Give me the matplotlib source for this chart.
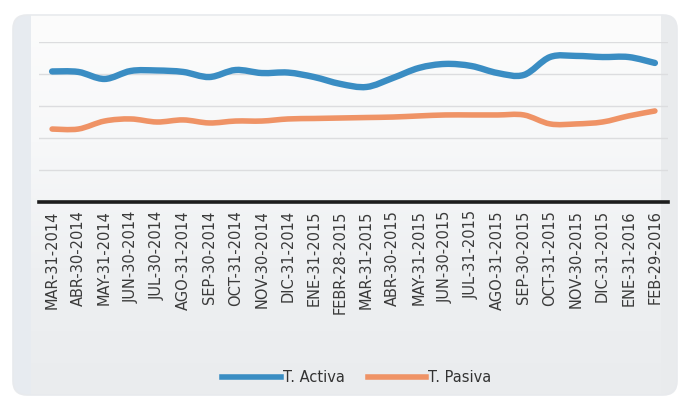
import numpy as np
import matplotlib
matplotlib.use("Agg")
import matplotlib.pyplot as plt
from matplotlib.path import Path
from matplotlib.patches import PathPatch, FancyBboxPatch, Rectangle
from matplotlib.lines import Line2D

# Monthly reference rates (%)
fechas = [
    "MAR-31-2014", "ABR-30-2014", "MAY-31-2014", "JUN-30-2014", "JUL-30-2014",
    "AGO-31-2014", "SEP-30-2014", "OCT-31-2014", "NOV-30-2014", "DIC-31-2014",
    "ENE-31-2015", "FEBR-28-2015", "MAR-31-2015", "ABR-30-2015", "MAY-31-2015",
    "JUN-30-2015", "JUL-31-2015", "AGO-31-2015", "SEP-30-2015", "OCT-31-2015",
    "NOV-30-2015", "DIC-31-2015", "ENE-31-2016", "FEB-29-2016",
]
tasa_activa = [8.16, 8.13, 7.69, 8.19, 8.22, 8.13, 7.81, 8.25, 8.06, 8.09,
               7.81, 7.38, 7.19, 7.75, 8.38, 8.63, 8.50, 8.06, 7.94, 9.06,
               9.13, 9.06, 9.06, 8.69]
tasa_pasiva = [4.56, 4.56, 5.06, 5.19, 5.00, 5.13, 4.94, 5.06, 5.06, 5.19,
               5.22, 5.25, 5.28, 5.31, 5.38, 5.44, 5.44, 5.44, 5.44, 4.88,
               4.88, 5.00, 5.38, 5.69]
etiquetas = ["T. Activa", "T. Pasiva"]

AZUL = "#3a8dc3"
NARANJA = "#ef9366"

W, H = 690, 403
fig = plt.figure(figsize=(W / 100, H / 100), dpi=100)
fig.patch.set_facecolor("white")

# Card background
bg = fig.add_axes([0, 0, 1, 1])
bg.set_xlim(0, W)
bg.set_ylim(H, 0)
bg.axis("off")
card = FancyBboxPatch((13, 15), 664, 380, boxstyle="round,pad=0,rounding_size=14",
                      facecolor="none", edgecolor="#e8eaed", lw=1.2)
bg.add_patch(card)
grad = np.linspace(0, 1, 256).reshape(-1, 1)
cmap = matplotlib.colors.LinearSegmentedColormap.from_list(
    "card", ["#fcfcfc", "#f7f8f9", "#eef0f2", "#eaecee"])
im = bg.imshow(grad, extent=(13, 677, 395, 15), aspect="auto", cmap=cmap, zorder=0)
im.set_clip_path(card)
lband = Rectangle((13, 15), 18, 380, facecolor="#e7ebf0", edgecolor="none", zorder=0.5)
rband = Rectangle((661, 15), 16, 380, facecolor="#e9ebed", edgecolor="none", zorder=0.5)
for b in (lband, rband):
    bg.add_patch(b)
    b.set_clip_path(card)

# Plot area
x0, x1, ytop, ybot = 39, 668, 42, 202
ax = fig.add_axes([x0 / W, 1 - ybot / H, (x1 - x0) / W, (ybot - ytop) / H])
ax.patch.set_alpha(0)
n = len(fechas)
x = np.arange(n)
ax.set_xlim(-0.5, n - 0.5)
ax.set_ylim(0, 10)
for s in ax.spines.values():
    s.set_visible(False)
ax.set_yticks([])
for g in [2, 4, 6, 8, 10]:
    ax.axhline(g, color="#dcdddf", lw=1.0, zorder=1)
ax.axhline(0, color="#1c1c1c", lw=2.6, zorder=2, clip_on=False)

ax.set_xticks(x)
ax.set_xticklabels(fechas, rotation=90, fontsize=10.5, color="#3a3a3a",
                   family="DejaVu Sans")
ax.tick_params(axis="x", length=0, pad=6)


def curva_suave(xs, ys):
    """Smoothed line through the points (Catmull-Rom as cubic Bezier)."""
    p = np.column_stack([xs, ys]).astype(float)
    verts = [p[0]]
    codes = [Path.MOVETO]
    for i in range(len(p) - 1):
        p0 = p[i - 1] if i > 0 else p[i]
        p3 = p[i + 2] if i + 2 < len(p) else p[i + 1]
        c1 = p[i] + (p[i + 1] - p0) / 6.0
        c2 = p[i + 1] - (p3 - p[i]) / 6.0
        verts += [c1, c2, p[i + 1]]
        codes += [Path.CURVE4] * 3
    return Path(verts, codes)


for serie, color, lw in [(tasa_activa, AZUL, 4.6), (tasa_pasiva, NARANJA, 4.0)]:
    patch = PathPatch(curva_suave(x, serie), facecolor="none", edgecolor=color,
                      lw=lw, capstyle="round", joinstyle="round", zorder=3)
    ax.add_patch(patch)

handles = [Line2D([], [], color=AZUL, lw=4.0), Line2D([], [], color=NARANJA, lw=4.0)]
fig.legend(handles, etiquetas, loc="center", bbox_to_anchor=(357 / W, 1 - 378 / H),
           ncol=2, frameon=False, fontsize=10.5, handlelength=4.0, handletextpad=0.15,
           columnspacing=1.6, labelcolor="#333333")

fig.savefig("out.png", dpi=100, facecolor=fig.get_facecolor())
